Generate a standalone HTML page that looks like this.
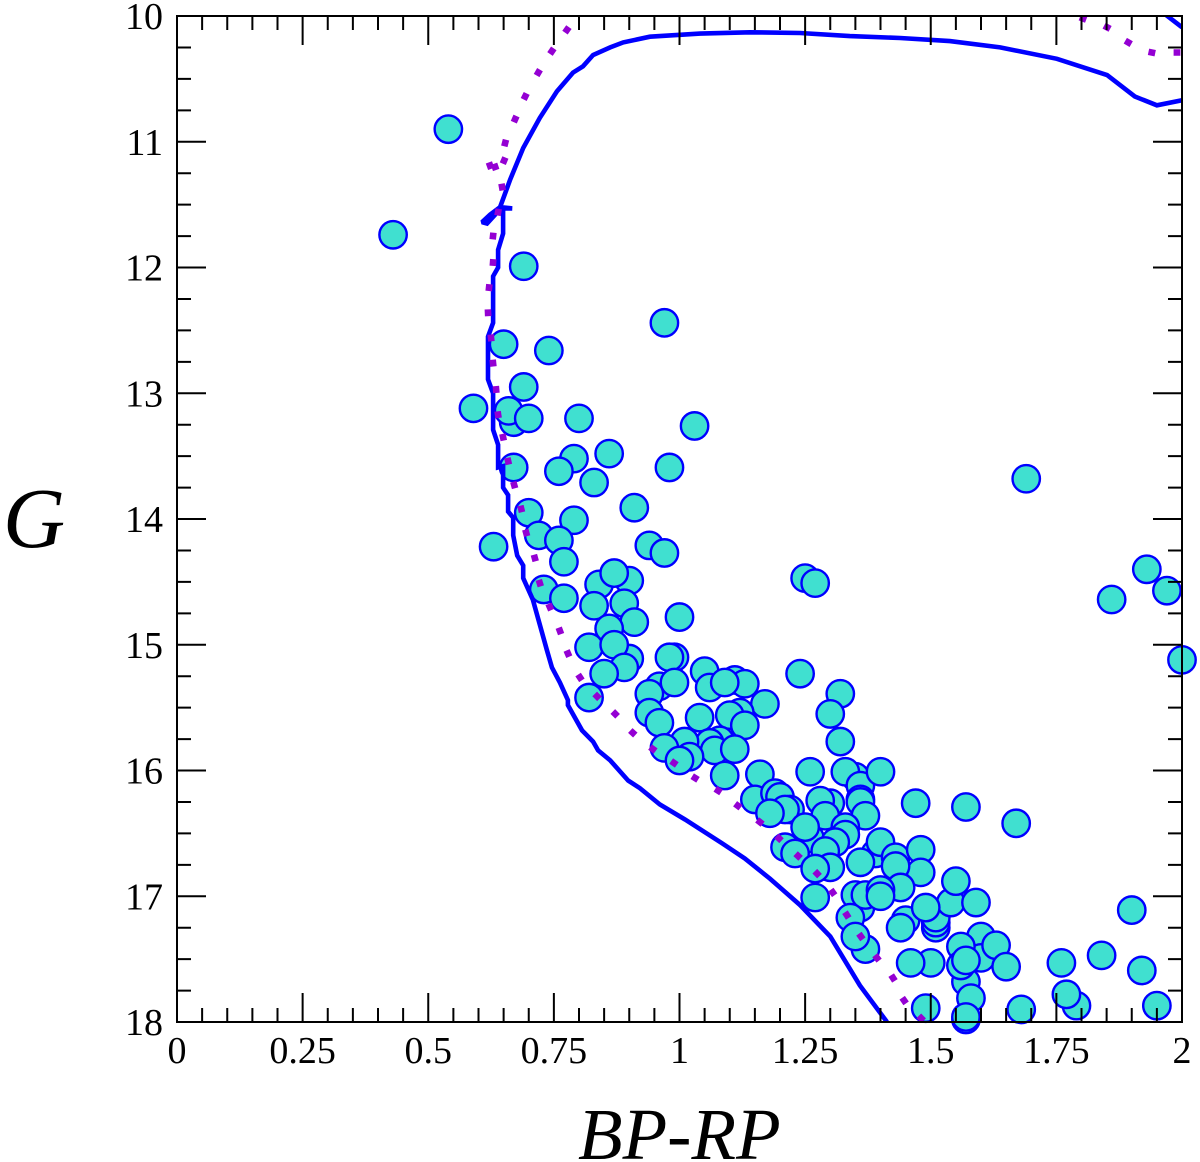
<!DOCTYPE html>
<html lang="en">
<head>
<meta charset="utf-8">
<title>BP-RP vs G colour-magnitude diagram</title>
<style>
html,body{margin:0;padding:0;background:#fff;}
svg{display:block;}
text{font-family:"Liberation Serif","DejaVu Serif",serif;fill:#000;}
.tick-label{font-size:38px;}
.axis-title{font-size:73px;font-style:italic;}
</style>
</head>
<body>
<svg id="chart" xmlns="http://www.w3.org/2000/svg" width="1200" height="1162" viewBox="0 0 1200 1162">
  <defs>
    <clipPath id="plot-clip"><rect x="177" y="16" width="1005" height="1006"/></clipPath>
  </defs>
  <rect x="0" y="0" width="1200" height="1162" fill="#ffffff"/>
  <g id="stars"></g>
  <g id="curves" clip-path="url(#plot-clip)"></g>
  <g id="axes"></g>
  <text class="axis-title" x="3" y="547" style="font-size:86px">G</text>
  <text class="axis-title" x="578" y="1159">BP-RP</text>
</svg>
<script>
const xTickValues = [0, 0.25, 0.5, 0.75, 1, 1.25, 1.5, 1.75, 2];
const xTickLabels = ['0', '0.25', '0.5', '0.75', '1', '1.25', '1.5', '1.75', '2'];
const yTickValues = [10, 11, 12, 13, 14, 15, 16, 17, 18];
const yTickLabels = ['10', '11', '12', '13', '14', '15', '16', '17', '18'];

const starPoints = [
[0.54,10.90],[0.43,11.74],[0.69,11.99],[0.97,12.44],[0.65,12.61],[0.74,12.66],[0.69,12.95],[0.59,13.12],
[0.67,13.23],[0.66,13.14],[0.70,13.20],[0.80,13.20],[1.03,13.26],[0.86,13.48],[0.79,13.52],[0.76,13.62],
[0.83,13.71],[0.67,13.59],[0.98,13.59],[1.69,13.68],[0.91,13.91],[0.70,13.95],[0.79,14.01],[0.72,14.13],
[0.76,14.17],[0.63,14.22],[0.94,14.21],[0.97,14.27],[0.77,14.34],[1.93,14.40],[1.25,14.47],[1.27,14.51],
[1.97,14.57],[0.73,14.56],[0.77,14.63],[1.86,14.64],[0.84,14.52],[0.90,14.49],[0.87,14.43],[0.83,14.69],
[0.89,14.67],[0.91,14.82],[1.00,14.78],[0.86,14.87],[0.82,15.02],[0.90,15.11],[0.87,15.00],[0.89,15.18],
[0.85,15.23],[0.82,15.42],[0.99,15.10],[0.98,15.10],[1.05,15.21],[1.11,15.28],[1.13,15.31],[1.06,15.34],
[1.09,15.30],[0.96,15.33],[0.99,15.30],[0.94,15.39],[0.94,15.54],[0.96,15.62],[1.17,15.47],[1.24,15.23],
[1.32,15.39],[1.30,15.55],[1.12,15.54],[1.10,15.56],[1.13,15.64],[1.04,15.58],[1.08,15.76],[1.06,15.78],
[1.07,15.84],[1.11,15.83],[1.01,15.77],[0.97,15.82],[1.02,15.89],[1.00,15.92],[1.09,16.04],[1.32,15.77],
[1.16,16.03],[1.26,16.01],[1.35,16.05],[1.33,16.01],[1.36,16.12],[1.40,16.01],[1.15,16.23],[1.19,16.18],
[1.20,16.21],[1.22,16.31],[1.21,16.31],[1.18,16.34],[1.36,16.23],[1.36,16.25],[1.37,16.36],[1.30,16.26],
[1.28,16.24],[1.29,16.36],[1.47,16.26],[1.57,16.29],[1.67,16.42],[1.33,16.45],[1.33,16.51],[1.26,16.54],
[1.25,16.45],[1.31,16.57],[1.21,16.61],[1.23,16.66],[1.29,16.64],[1.30,16.77],[1.27,16.78],[1.39,16.66],
[1.40,16.57],[1.43,16.69],[1.48,16.63],[1.36,16.73],[1.48,16.81],[1.43,16.76],[1.44,16.93],[1.27,17.01],
[1.36,17.09],[1.35,16.99],[1.37,16.99],[1.40,16.95],[1.40,17.00],[1.34,17.17],[1.37,17.42],[1.35,17.32],
[1.45,17.19],[1.44,17.25],[1.51,17.25],[1.51,17.21],[1.51,17.17],[1.54,17.05],[1.59,17.05],[1.55,16.88],
[1.49,17.09],[1.50,17.53],[1.46,17.53],[1.60,17.32],[1.60,17.49],[1.57,17.68],[1.56,17.40],[1.56,17.55],
[1.63,17.39],[1.65,17.56],[1.57,17.51],[1.58,17.81],[1.57,17.98],[1.57,17.96],[1.49,17.89],[1.68,17.90],
[1.76,17.53],[1.79,17.87],[1.77,17.78],[1.84,17.47],[1.90,17.11],[1.92,17.59],[1.95,17.87],[2.00,15.12]
];

const solidTrackMain = [
[1.413,18.00],[1.359,17.71],[1.300,17.32],[1.240,17.07],[1.180,16.86],[1.130,16.70],[1.085,16.58],[1.011,16.39],
[0.961,16.27],[0.921,16.14],[0.898,16.08],[0.862,15.92],[0.838,15.84],[0.828,15.77],[0.806,15.68],[0.778,15.48],
[0.778,15.44],[0.762,15.30],[0.746,15.18],[0.736,15.04],[0.722,14.84],[0.708,14.64],[0.689,14.47],[0.689,14.37],
[0.677,14.29],[0.669,14.13],[0.669,13.99],[0.659,13.94],[0.659,13.81],[0.649,13.75],[0.649,13.58],[0.639,13.59],
[0.639,13.41],[0.629,13.29],[0.629,13.00],[0.619,12.89],[0.619,12.55],[0.629,12.44],[0.629,12.07],[0.639,12.00],
[0.639,11.86],[0.649,11.73],[0.649,11.53],[0.667,11.53],[0.643,11.52],[0.623,11.58],[0.607,11.64],[0.617,11.65],
[0.633,11.58],[0.643,11.52],[0.663,11.30],[0.689,11.05],[0.722,10.81],[0.756,10.60],[0.788,10.45],[0.808,10.40],
[0.828,10.31],[0.862,10.25],[0.888,10.21],[0.941,10.165],[1.041,10.14],[1.140,10.13],[1.240,10.135],[1.339,10.16],
[1.439,10.175],[1.538,10.20],[1.638,10.25],[1.751,10.34],[1.851,10.47],[1.906,10.64],[1.950,10.71],[2.000,10.67]
];
const solidTrackCorner = [[1.966,9.985],[2.000,10.09]];

const dottedTrackMain = [
[1.481,17.97],[1.447,17.83],[1.425,17.65],[1.393,17.49],[1.361,17.32],[1.333,17.15],[1.305,16.97],[1.274,16.82],
[1.236,16.68],[1.198,16.54],[1.160,16.41],[1.116,16.28],[1.077,16.16],[1.031,16.06],[0.989,15.94],[0.947,15.83],
[0.907,15.70],[0.872,15.55],[0.836,15.41],[0.802,15.26],[0.778,15.07],[0.762,14.89],[0.742,14.70],[0.722,14.51],
[0.712,14.31],[0.695,14.11],[0.685,13.92],[0.671,13.73],[0.659,13.54],[0.649,13.35],[0.639,13.17],[0.635,12.97],
[0.629,12.76],[0.625,12.56],[0.619,12.36],[0.621,12.16],[0.629,11.96],[0.629,11.75],[0.639,11.56],[0.647,11.36],
[0.623,11.19],[0.633,11.20],[0.651,11.15],[0.653,11.01],[0.673,10.82],[0.693,10.64],[0.719,10.45],[0.746,10.28],
[0.776,10.11]
];
const dottedTrackCorner = [[1.803,10.02],[1.851,10.09],[1.893,10.21],[1.940,10.29],[1.990,10.29]];

const SVG_NS = 'http://www.w3.org/2000/svg';
const PLOT = { left: 177, right: 1182, top: 16, bottom: 1022 };
const X_MIN = 0, X_MAX = 2, Y_MIN = 10, Y_MAX = 18;
const xScale = v => PLOT.left + (v - X_MIN) / (X_MAX - X_MIN) * (PLOT.right - PLOT.left);
const yScale = v => PLOT.top + (v - Y_MIN) / (Y_MAX - Y_MIN) * (PLOT.bottom - PLOT.top);

const starsLayer = document.getElementById('stars');
const curvesLayer = document.getElementById('curves');
const axesLayer = document.getElementById('axes');

function make(tag, attrs, parent) {
  const el = document.createElementNS(SVG_NS, tag);
  for (const k in attrs) el.setAttribute(k, attrs[k]);
  parent.appendChild(el);
  return el;
}

starPoints.forEach(p => {
  const c = make('circle', { cx: xScale(p[0]), cy: yScale(p[1]), r: 13.7, fill: '#40e0d0', stroke: '#0000ff', 'stroke-width': 2.4 }, starsLayer);
  
  
});

function linePath(pts) {
  return pts.map((p, i) => (i ? 'L' : 'M') + xScale(p[0]).toFixed(1) + ' ' + yScale(p[1]).toFixed(1)).join(' ');
}
[solidTrackMain, solidTrackCorner].forEach(track => {
  const l = make('path', { d: linePath(track), fill: 'none', stroke: '#0000ff', 'stroke-width': 4.6, 'stroke-linejoin': 'miter', 'stroke-miterlimit': 2 }, curvesLayer);
  
  
});

function dotPath(pts) {
  const half = 3.4;
  return pts.map((p, i) => {
    const a = pts[Math.max(0, i - 1)], b = pts[Math.min(pts.length - 1, i + 1)];
    const dx = xScale(b[0]) - xScale(a[0]), dy = yScale(b[1]) - yScale(a[1]);
    const len = Math.hypot(dx, dy) || 1;
    const cx = xScale(p[0]), cy = yScale(p[1]);
    const ux = dx / len * half, uy = dy / len * half;
    return 'M' + (cx - ux).toFixed(1) + ' ' + (cy - uy).toFixed(1) + ' L' + (cx + ux).toFixed(1) + ' ' + (cy + uy).toFixed(1);
  }).join(' ');
}
[dottedTrackMain, dottedTrackCorner].forEach(track => {
  const d = make('path', { d: dotPath(track), fill: 'none', stroke: '#9400d3', 'stroke-width': 6.6 }, curvesLayer);
  
  
});

const MAJOR = 29, MINOR = 14;
const tickPath = [];
for (let i = 0; i <= 40; i++) {
  const x = xScale(X_MIN + i * 0.05);
  const len = i % 5 === 0 ? MAJOR : MINOR;
  if (i > 0 && i < 40) tickPath.push('M' + x + ' ' + PLOT.bottom + 'V' + (PLOT.bottom - len) + 'M' + x + ' ' + PLOT.top + 'V' + (PLOT.top + len));
}
for (let i = 1; i < 32; i++) {
  const y = yScale(Y_MIN + i * 0.25);
  const len = i % 4 === 0 ? MAJOR : MINOR;
  tickPath.push('M' + PLOT.left + ' ' + y + 'H' + (PLOT.left + len) + 'M' + PLOT.right + ' ' + y + 'H' + (PLOT.right - len));
}
const ticks = make('path', { d: tickPath.join(''), fill: 'none', stroke: '#000', 'stroke-width': 2 }, axesLayer);



const frame = make('rect', { x: PLOT.left, y: PLOT.top, width: PLOT.right - PLOT.left, height: PLOT.bottom - PLOT.top, fill: 'none', stroke: '#000', 'stroke-width': 2 }, axesLayer);



xTickValues.forEach((v, i) => {
  const t = make('text', { class: 'tick-label', x: xScale(v), y: 1063, 'text-anchor': 'middle' }, axesLayer);
  t.textContent = xTickLabels[i];
  
  
});
yTickValues.forEach((v, i) => {
  const t = make('text', { class: 'tick-label', x: 163, y: yScale(v) + 13, 'text-anchor': 'end' }, axesLayer);
  t.textContent = yTickLabels[i];
  
  
});
</script>
</body>
</html>
